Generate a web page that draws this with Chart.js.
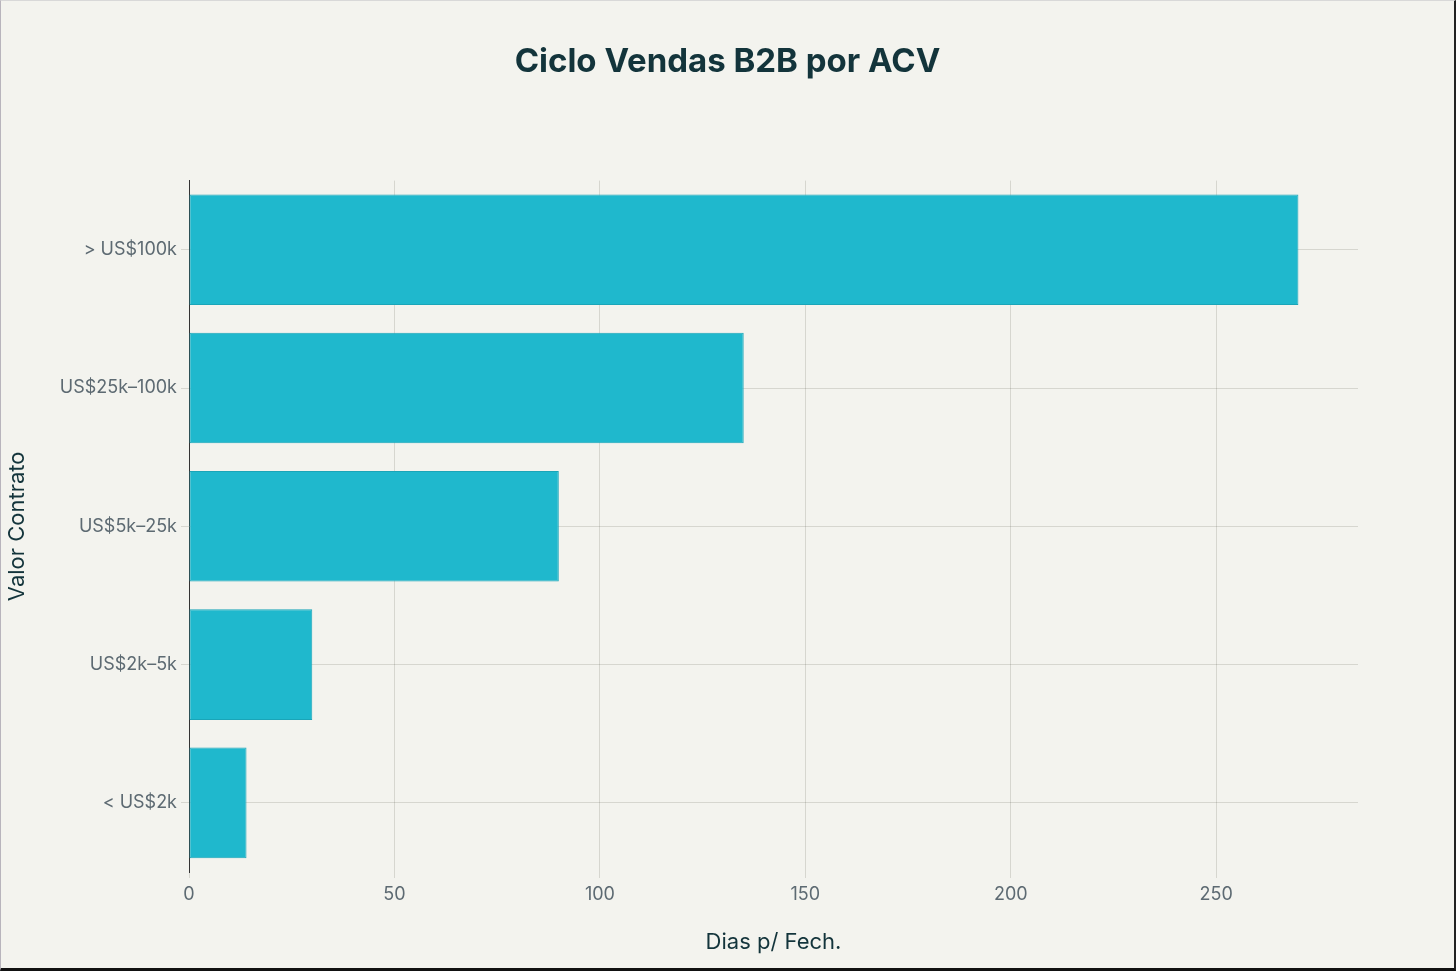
<!DOCTYPE html>
<html>
<head>
<meta charset="utf-8">
<script src="https://cdn.jsdelivr.net/npm/chart.js@4.4.1/dist/chart.umd.min.js"></script>
<style>
    html, body {
        margin: 0;
        padding: 0;
        background: #f3f3ee;
    }
    #wrap {
        width: 1456px;
        height: 971px;
        box-sizing: border-box;
        border-left: 1px solid #b8b4bc;
        border-right: 2px solid #222;
        border-bottom: 3px solid #111;
        border-top: 1px solid #d8d8d8;
    }
</style>
</head>
<body>
<div id="wrap"><canvas id="chart"></canvas></div>
<script>
// Data
const categories = ["> US$100k", "US$25k\u2013100k", "US$5k\u201325k", "US$2k\u20135k", "< US$2k"];
const days = [270, 135, 90, 30, 14];
const xTicks = [0, 50, 100, 150, 200, 250];

const FONT = "Inter, 'Liberation Sans', Arial, sans-serif";
const TICK_COLOR = "#5d6a72";
const TITLE_COLOR = "#13343b";
const GRID_COLOR = "rgba(60, 60, 50, 0.16)";

const ctx = document.getElementById("chart").getContext("2d");

new Chart(ctx, {
    type: "bar",
    data: {
        labels: categories,
        datasets: [{
            label: "Dias p/ Fech.",
            data: days,
            backgroundColor: "#1fb8cd",
            borderColor: "#1aa5b8",
            borderWidth: 1,
            borderSkipped: false,
            barPercentage: 0.8,
            categoryPercentage: 1.0
        }]
    },
    options: {
        indexAxis: "y",
        responsive: true,
        maintainAspectRatio: false,
        animation: false,
        layout: {
            padding: 0
        },
        plugins: {
            legend: { display: false },
            tooltip: { enabled: false },
            title: {
                display: true,
                text: "Ciclo Vendas B2B por ACV",
                color: TITLE_COLOR,
                font: { family: FONT, size: 33, weight: "bold" },
                padding: { top: 41, bottom: 99 }
            }
        },
        scales: {
            x: {
                type: "linear",
                min: 0,
                max: 284.5,
                afterBuildTicks: (scale) => {
                    scale.ticks = xTicks.map(v => ({ value: v }));
                },
                afterFit: (scale) => {
                    scale.height = 96;
                },
                border: { display: false },
                grid: {
                    color: GRID_COLOR,
                    tickLength: 6
                },
                ticks: {
                    color: TICK_COLOR,
                    font: { family: FONT, size: 18 },
                    padding: 6
                },
                title: {
                    display: true,
                    text: "Dias p/ Fech.",
                    color: TITLE_COLOR,
                    font: { family: FONT, size: 22 },
                    padding: { top: 18, bottom: 12 }
                }
            },
            y: {
                afterFit: (scale) => {
                    scale.width = 188;
                },
                border: { display: true, color: "#333", width: 1 },
                grid: {
                    offset: false,
                    color: GRID_COLOR,
                    tickLength: 8
                },
                ticks: {
                    color: TICK_COLOR,
                    font: { family: FONT, size: 18 },
                    padding: 4
                },
                title: {
                    display: true,
                    text: "Valor Contrato",
                    color: TITLE_COLOR,
                    font: { family: FONT, size: 22 },
                    padding: { top: 3, bottom: 0 }
                }
            },
            // empty right-hand axis keeps the plot edge where the reference has it
            yRight: {
                type: "category",
                position: "right",
                afterFit: (scale) => {
                    scale.width = 96;
                },
                border: { display: false },
                grid: { display: false },
                ticks: { display: false }
            }
        }
    }
});
</script>
</body>
</html>
